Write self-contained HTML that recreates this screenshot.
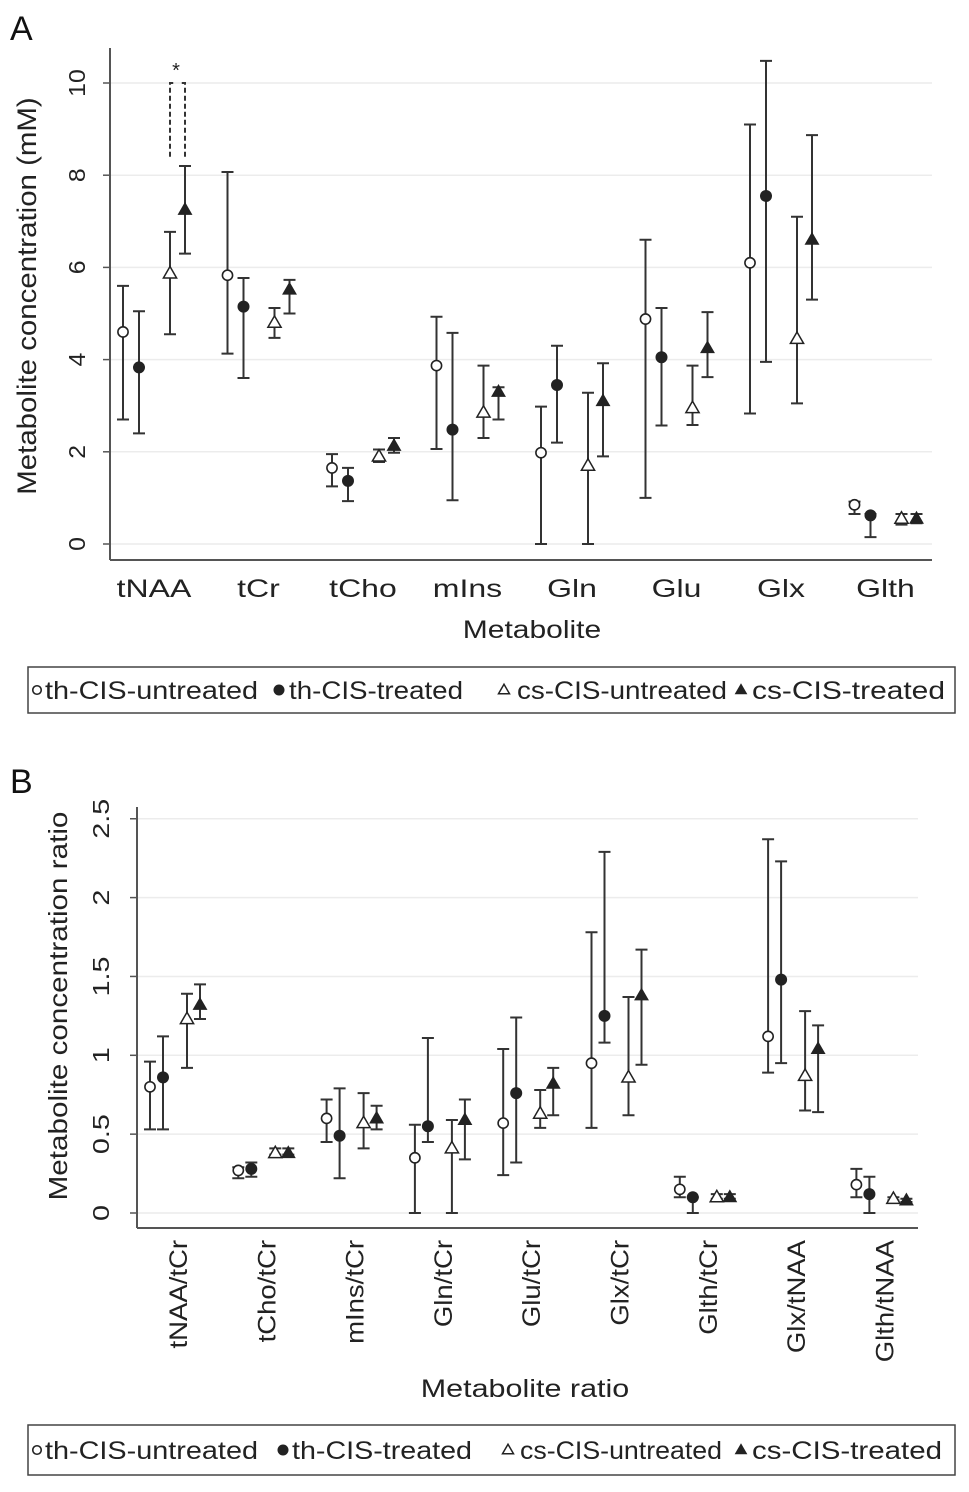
<!DOCTYPE html>
<html><head><meta charset="utf-8"><style>
html,body{margin:0;padding:0;background:#fff;}
svg{display:block;font-family:"Liberation Sans",Arial,sans-serif;}
</style></head><body>
<svg id="chart" width="969" height="1492" viewBox="0 0 969 1492" xmlns="http://www.w3.org/2000/svg"></svg>
<script>
// ---------- Panel A data ----------
const catsA = ["tNAA","tCr","tCho","mIns","Gln","Glu","Glx","Glth"];
const ticksA = [0,2,4,6,8,10];
const meanA_thU = [4.6,5.83,1.65,3.87,1.98,4.88,6.1,0.85];
const loA_thU   = [2.7,4.13,1.25,2.06,0,1.0,2.83,0.65];
const hiA_thU   = [5.6,8.07,1.95,4.93,2.98,6.6,9.1,0.92];
const meanA_thT = [3.83,5.15,1.37,2.48,3.45,4.05,7.55,0.62];
const loA_thT   = [2.4,3.6,0.93,0.95,2.2,2.57,3.95,0.15];
const hiA_thT   = [5.05,5.77,1.65,4.58,4.3,5.12,10.48,0.65];
const meanA_csU = [5.87,4.8,1.9,2.85,1.7,2.95,4.45,0.55];
const loA_csU   = [4.55,4.47,1.78,2.3,0,2.58,3.05,0.42];
const hiA_csU   = [6.77,5.12,2.05,3.87,3.28,3.87,7.1,0.65];
const meanA_csT = [7.25,5.52,2.13,3.3,3.1,4.25,6.6,0.55];
const loA_csT   = [6.3,5.0,1.98,2.7,1.9,3.62,5.3,0.45];
const hiA_csT   = [8.2,5.73,2.3,3.4,3.92,5.03,8.87,0.65];
// ---------- Panel B data ----------
const catsB = ["tNAA/tCr","tCho/tCr","mIns/tCr","Gln/tCr","Glu/tCr","Glx/tCr","Glth/tCr","Glx/tNAA","Glth/tNAA"];
const ticksB = [0,0.5,1,1.5,2,2.5];
const meanB_thU = [0.8,0.27,0.6,0.35,0.57,0.95,0.15,1.12,0.18];
const loB_thU   = [0.53,0.22,0.45,0,0.24,0.54,0.1,0.89,0.1];
const hiB_thU   = [0.96,0.29,0.72,0.56,1.04,1.78,0.23,2.37,0.28];
const meanB_thT = [0.86,0.28,0.49,0.55,0.76,1.25,0.1,1.48,0.12];
const loB_thT   = [0.53,0.23,0.22,0.45,0.32,1.08,0.0,0.95,0.0];
const hiB_thT   = [1.12,0.32,0.79,1.11,1.24,2.29,0.1,2.23,0.23];
const meanB_csU = [1.23,0.38,0.57,0.41,0.63,0.86,0.1,0.87,0.09];
const loB_csU   = [0.92,0.37,0.41,0,0.54,0.62,0.09,0.65,0.08];
const hiB_csU   = [1.39,0.41,0.76,0.59,0.78,1.37,0.12,1.28,0.1];
const meanB_csT = [1.32,0.38,0.6,0.59,0.82,1.38,0.1,1.04,0.08];
const loB_csT   = [1.23,0.37,0.53,0.34,0.62,0.94,0.09,0.64,0.07];
const hiB_csT   = [1.45,0.41,0.68,0.72,0.92,1.67,0.12,1.19,0.09];
const legendLabels = ["th-CIS-untreated","th-CIS-treated","cs-CIS-untreated","cs-CIS-treated"];

const NS="http://www.w3.org/2000/svg";
const svg=document.getElementById('chart');
function el(tag,attrs,parent){const e=document.createElementNS(NS,tag);for(const k in attrs)e.setAttribute(k,attrs[k]);(parent||svg).appendChild(e);return e;}
function stretch(t,f){const w=t.getComputedTextLength();if(w>0){t.setAttribute('textLength',(w*f).toFixed(1));t.setAttribute('lengthAdjust','spacingAndGlyphs');}}
const C="#222";

function marker(g,type,x,y,s){
  let m;
  if(type===0){m=el('circle',{cx:x,cy:y,r:s*0.85,fill:'#fff',stroke:C,'stroke-width':1.6},g);}
  else if(type===1){m=el('circle',{cx:x,cy:y,r:s,fill:C},g);}
  else {const h=s*1.9;m=el('polygon',{points:`${x},${y-h*0.6} ${x-s*1.1},${y+h*0.4} ${x+s*1.1},${y+h*0.4}`,fill:type===3?C:'#fff',stroke:C,'stroke-width':type===3?1:1.5},g);}
  return m;
}

function panel(cfg){
  const g=el('g',{});
  
  
  const y=v=>cfg.y0-(v-cfg.vmin)*cfg.ppu;
  const x=i=>cfg.cx0+i*cfg.step;
  cfg.ticks.forEach(t=>{
    const gl=el('line',{x1:cfg.ax+1,x2:cfg.axR,y1:y(t),y2:y(t),stroke:'#ececec','stroke-width':1.5},g);
    
    
    el('line',{x1:cfg.ax-7,x2:cfg.ax,y1:y(t),y2:y(t),stroke:'#555','stroke-width':1.5},g);
    const tx=el('text',{x:cfg.tickX,y:y(t),'font-size':cfg.tickFs,fill:C,'text-anchor':'middle',transform:`rotate(-90 ${cfg.tickX} ${y(t)})`,'dominant-baseline':'central'},g);
    tx.textContent=String(t);
    
    
    stretch(tx,cfg.tickF);
  });
  const ya=el('line',{x1:cfg.ax,x2:cfg.ax,y1:cfg.axTop,y2:cfg.axB,stroke:'#555','stroke-width':2},g);
  
  
  const xa=el('line',{x1:cfg.ax,x2:cfg.axR,y1:cfg.axB,y2:cfg.axB,stroke:'#555','stroke-width':2},g);
  
  
  const series=[[cfg.m[0],cfg.lo[0],cfg.hi[0]],[cfg.m[1],cfg.lo[1],cfg.hi[1]],[cfg.m[2],cfg.lo[2],cfg.hi[2]],[cfg.m[3],cfg.lo[3],cfg.hi[3]]];
  series.forEach((s,si)=>{
    const sg=el('g',{},g);
    
    
    cfg.cats.forEach((c,i)=>{
      const px=x(i)+cfg.off[si];
      const eb=el('path',{d:`M${px},${y(s[1][i])}V${y(s[2][i])}M${px-6},${y(s[1][i])}h12M${px-6},${y(s[2][i])}h12`,stroke:'#333','stroke-width':2,fill:'none'},sg);
      
      
      const mk=marker(sg,si,px,y(s[0][i]),cfg.ms);
      
      
    });
  });
  cfg.cats.forEach((c,i)=>{
    let t;
    if(cfg.rot){
      const lx=x(i)+4, ly=cfg.axB+12;
      t=el('text',{x:lx,y:ly,'font-size':cfg.catFs,fill:C,'text-anchor':'end','dominant-baseline':'central',transform:`rotate(-90 ${lx} ${ly})`},g);
    } else {
      t=el('text',{x:x(i),y:cfg.axB+37,'font-size':cfg.catFs,fill:C,'text-anchor':'middle'},g);
    }
    t.textContent=c;
    
    
    stretch(t,cfg.catF);
  });
  return {g,x,y};
}

let t=el('text',{x:10,y:40,'font-size':34,fill:'#111'});t.textContent='A';

t=el('text',{x:10,y:793,'font-size':34,fill:'#111'});t.textContent='B';


const pA=panel({name:'panel-a-chart',cats:catsA,ticks:ticksA,y0:544,vmin:0,ppu:46.1,ax:110,axR:932,axTop:48,axB:560,tickX:77,
  cx0:154,step:104.5,off:[-31,-15,16,31],ms:6,tickFs:23,tickF:1.08,catFs:25,catF:1.28,rot:false,
  m:[meanA_thU,meanA_thT,meanA_csU,meanA_csT],lo:[loA_thU,loA_thT,loA_csU,loA_csT],hi:[hiA_thU,hiA_thT,hiA_csU,hiA_csT]});
const br=el('path',{d:`M${pA.x(0)+16},${pA.y(8.4)}V${pA.y(10)}h5M${pA.x(0)+31},${pA.y(8.4)}V${pA.y(10)}h-5`,stroke:'#333','stroke-width':2,fill:'none','stroke-dasharray':'5,3'});

t=el('text',{x:pA.x(0)+22,y:pA.y(10.3)+8,'font-size':20,'text-anchor':'middle',fill:C});t.textContent='*';

t=el('text',{x:27,y:296,'font-size':27,fill:C,'text-anchor':'middle',transform:'rotate(-90 27 296)','dominant-baseline':'central'});t.textContent='Metabolite concentration (mM)';

stretch(t,1.09);
t=el('text',{x:532,y:638,'font-size':25,fill:C,'text-anchor':'middle'});t.textContent='Metabolite';

stretch(t,1.2);

const pB=panel({name:'panel-b-chart',cats:catsB,ticks:ticksB,y0:1213,vmin:0,ppu:157.7,ax:137,axR:918,axTop:807,axB:1228,tickX:101,
  cx0:175,step:88.3,off:[-25,-12,12,25],ms:6,tickFs:23,tickF:1.25,catFs:25,catF:1.1,rot:true,
  m:[meanB_thU,meanB_thT,meanB_csU,meanB_csT],lo:[loB_thU,loB_thT,loB_csU,loB_csT],hi:[hiB_thU,hiB_thT,hiB_csU,hiB_csT]});
t=el('text',{x:58,y:1006,'font-size':26,fill:C,'text-anchor':'middle',transform:'rotate(-90 58 1006)','dominant-baseline':'central'});t.textContent='Metabolite concentration ratio';

stretch(t,1.14);
t=el('text',{x:525,y:1397,'font-size':25,fill:C,'text-anchor':'middle'});t.textContent='Metabolite ratio';

stretch(t,1.22);

function legend(name,x0,y0,w,h,xs,tx,tw){
  const g=el('g',{});
  
  
  el('rect',{x:x0,y:y0,width:w,height:h,fill:'#fff',stroke:'#444','stroke-width':1.5},g);
  legendLabels.forEach((l,i)=>{
    const eg=el('g',{},g);
    
    
    marker(eg,i,xs[i],y0+h/2,i===1?5.5:5);
    const tt=el('text',{x:tx[i],y:y0+h/2+9,'font-size':25,fill:C,textLength:tw[i],lengthAdjust:'spacingAndGlyphs'},eg);
    tt.textContent=l;
  });
}
legend('legend-a',28,667,927,46,[37,279,504,741],[45,289,517,752],[213,174,210,193]);
legend('legend-b',28,1425,927,50,[37,283,508,741],[45,292,520,752],[213,180,202,190]);
</script>
</body></html>
